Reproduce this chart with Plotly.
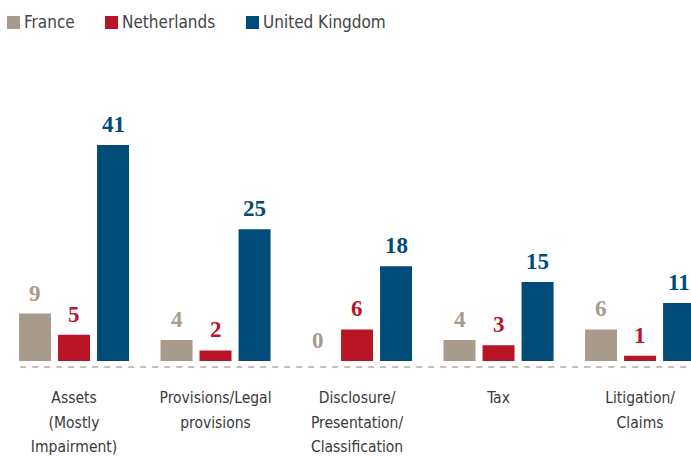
import plotly.graph_objects as go

categories = ["Assets<br>(Mostly<br>Impairment)", "Provisions/Legal<br>provisions",
              "Disclosure/<br>Presentation/<br>Classification", "Tax", "Litigation/<br>Claims"]
series_names = ["France", "Netherlands", "United Kingdom"]
france = [9, 4, 0, 4, 6]
netherlands = [5, 2, 6, 3, 1]
united_kingdom = [41, 25, 18, 15, 11]
colors = ["#a89b8c", "#b91526", "#004b78"]

SANS = "DejaVu Sans Condensed"
values = [france, netherlands, united_kingdom]
BARGAP = 0.173
fig = go.Figure()
for name, vals, col in zip(series_names, values, colors):
    fig.add_trace(go.Bar(name=name, x=list(range(len(categories))), y=vals,
                         marker=dict(color=col, line=dict(width=0)), showlegend=False))

slot = (1 - BARGAP) / 3
annotations = []
for k, (vals, col) in enumerate(zip(values, colors)):
    for i, v in enumerate(vals):
        annotations.append(dict(x=i + (k - 1) * slot, y=v, xref="x", yref="y",
                                text="<b>%d</b>" % v, showarrow=False, yanchor="bottom",
                                yshift=6,
                                font=dict(family="Liberation Serif", size=23, color=col)))

# legend (square swatch + label) laid out across the top; plot top is 124px from page top
PLOT_TOP = 124
legend_x = [7, 105, 246]
shapes = []
for name, col, lx in zip(series_names, colors, legend_x):
    shapes.append(dict(type="rect", xref="paper", yref="paper",
                       xsizemode="pixel", ysizemode="pixel", xanchor=0, yanchor=1,
                       x0=lx - 3, x1=lx - 3 + 13, y0=PLOT_TOP - 29, y1=PLOT_TOP - 16,
                       fillcolor=col, line=dict(width=0)))
    annotations.append(dict(xref="paper", yref="paper", x=0, y=1, xshift=lx - 3 + 15,
                            yshift=PLOT_TOP - 22, xanchor="left", yanchor="middle",
                            text=name, showarrow=False,
                            font=dict(family=SANS, size=17, color="#444444")))

shapes.append(dict(type="line", xref="paper", x0=0.025, x1=1.0, yref="paper",
                   ysizemode="pixel", yanchor=0, y0=-6, y1=-6,
                   line=dict(color="#b5aa9d", width=1.5, dash="6px,6px")))

ticktext = ["<br>".join('<span style="font-size:15.5px">%s</span>' % ln for ln in c.split("<br>"))
            for c in categories]

fig.update_layout(
    width=691, height=457,
    margin=dict(l=3, r=0, t=PLOT_TOP, b=96, autoexpand=False),
    plot_bgcolor="white", paper_bgcolor="white",
    barmode="group", bargap=BARGAP, bargroupgap=0.18,
    showlegend=False,
    annotations=annotations,
    shapes=shapes,
)
fig.update_xaxes(range=[-0.502, 4.36], tickmode="array", tickvals=list(range(len(categories))),
                 ticktext=ticktext, showgrid=False, zeroline=False, showline=False,
                 ticks="", ticklabelstandoff=22, automargin=False,
                 tickfont=dict(family=SANS, size=19, color="#3a3a3a"))
fig.update_yaxes(range=[0, 45], visible=False, showgrid=False, zeroline=False)

fig.write_html("out.html", config={"displayModeBar": False},
               post_script="document.body.style.margin='0';")
